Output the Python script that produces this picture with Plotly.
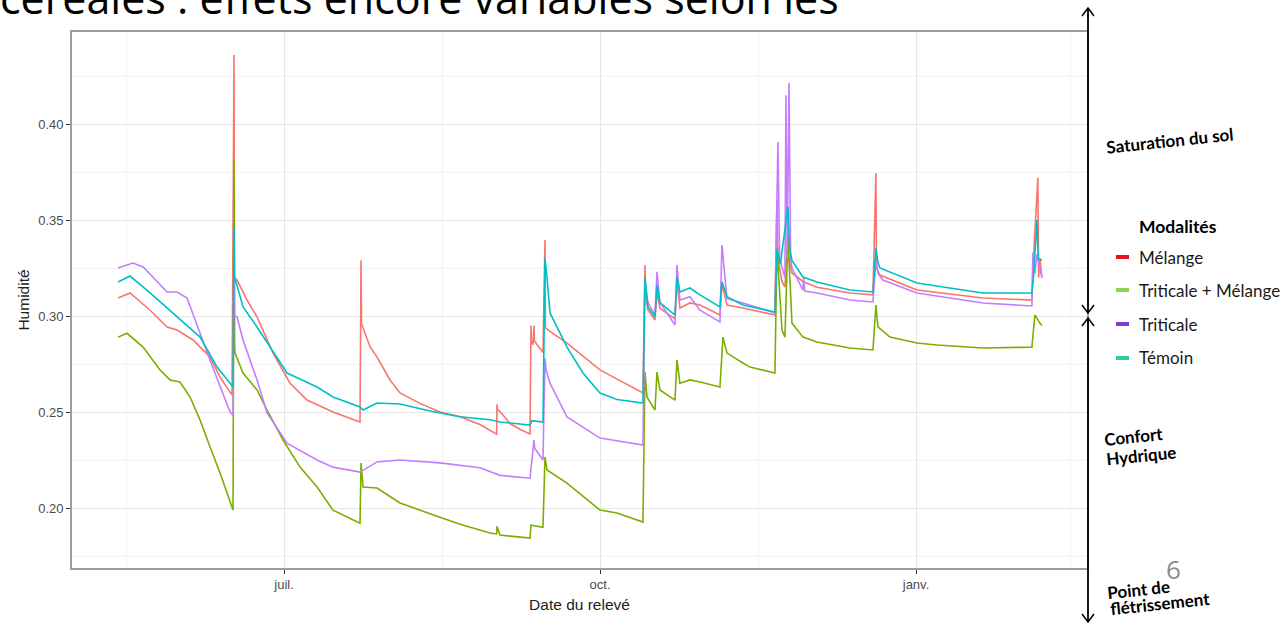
import pandas as pd
import plotly.graph_objects as go

# ---------------- data (days since 2018-05-01, humidity) ----------------
START = "2018-05-01"

mel_days = [12.66, 16.16, 21.98, 26.93, 29.84, 34.50, 39.45, 42.36, 45.85, 46.43, 46.55, 47.31, 50.22,
            53.13, 57.79, 62.74, 67.69, 75.25, 83.11, 83.41, 83.55, 86.03, 88.07, 91.85, 94.76, 100.58,
            106.40, 112.23, 118.05, 121.50, 122.90, 123.00, 123.10, 124.50, 126.78, 129.69, 132.61, 132.90,
            133.00, 133.48, 133.77, 133.90, 136.39, 136.97, 137.10, 138.43, 143.38, 152.98, 165.50, 166.08,
            166.30, 166.96, 169.00, 169.58, 170.45, 174.82, 175.40, 176.27, 179.18, 182.10, 187.92, 188.50,
            189.96, 194.61, 203.93, 204.51, 204.80, 205.97, 206.84, 207.71, 208.01, 208.88, 212.08, 216.16,
            225.76, 232.46, 233.33, 233.50, 234.50, 245.27, 264.48, 278.75, 279.04, 280.49, 280.70, 281.08,
            281.66]
mel_vals = [0.3094, 0.3120, 0.3030, 0.2943, 0.2927, 0.2875, 0.2786, 0.2682, 0.2588, 0.4360, 0.3200, 0.3187, 0.3083,
            0.2995, 0.2807, 0.2650, 0.2562, 0.2500, 0.2448, 0.3290, 0.2960, 0.2840, 0.2786, 0.2667, 0.2599, 0.2545,
            0.2500, 0.2475, 0.2435, 0.2400, 0.2385, 0.2540, 0.2515, 0.2490, 0.2440, 0.2410, 0.2385, 0.2950,
            0.2870, 0.2850, 0.2950, 0.2870, 0.2810, 0.3396, 0.2940, 0.2920, 0.2859, 0.2719, 0.2599, 0.3266,
            0.3100, 0.3030, 0.2979, 0.3120, 0.3040, 0.2985, 0.3180, 0.3042, 0.3068, 0.3057, 0.3005, 0.3170,
            0.3057, 0.3042, 0.3005, 0.3604, 0.3300, 0.3180, 0.3150, 0.3450, 0.3300, 0.3224, 0.3180, 0.3150,
            0.3120, 0.3110, 0.3745, 0.3250, 0.3213, 0.3135, 0.3094, 0.3083, 0.3250, 0.3720, 0.3200, 0.3300,
            0.3200]

tm_days = [12.66, 15.28, 19.94, 24.89, 27.80, 30.71, 33.62, 36.54, 39.45, 42.36, 46.14, 46.43, 46.60, 46.72,
           49.05, 53.13, 56.04, 60.70, 65.65, 70.60, 75.25, 83.11, 83.41, 83.99, 88.07, 94.76, 103.49, 112.23,
           120.96, 122.90, 123.00, 123.87, 132.61, 132.90, 136.39, 136.97, 137.55, 143.38, 152.98, 157.93,
           165.50, 166.08, 166.67, 169.00, 169.58, 170.45, 174.82, 175.40, 176.27, 179.18, 182.10, 187.92,
           188.79, 189.96, 194.61, 196.65, 203.93, 204.51, 205.97, 206.84, 207.71, 208.88, 212.08, 216.16,
           225.76, 232.46, 233.33, 233.92, 237.41, 245.27, 251.09, 264.48, 278.75, 279.62, 281.08, 281.66]
tm_vals = [0.2890, 0.2910, 0.2838, 0.2719, 0.2667, 0.2656, 0.2578, 0.2458, 0.2318, 0.2182, 0.1989, 0.3810, 0.2850, 0.2807,
           0.2703, 0.2615, 0.2510, 0.2354, 0.2213, 0.2109, 0.1989, 0.1921, 0.2234, 0.2109, 0.2104, 0.2026, 0.1970, 0.1915,
           0.1870, 0.1865, 0.1905, 0.1859, 0.1843, 0.1910, 0.1900, 0.2266, 0.2198, 0.2130, 0.1989, 0.1974,
           0.1927, 0.2708, 0.2578, 0.2510, 0.2708, 0.2615, 0.2562, 0.2770, 0.2650, 0.2667, 0.2656, 0.2630,
           0.2890, 0.2807, 0.2755, 0.2734, 0.2703, 0.3354, 0.2927, 0.2890, 0.3410, 0.2963, 0.2890, 0.2865,
           0.2833, 0.2823, 0.3057, 0.2943, 0.2890, 0.2859, 0.2849, 0.2833, 0.2838, 0.3005, 0.2963, 0.2950]

tri_days = [12.66, 16.99, 20.00, 26.93, 29.84, 32.75, 39.45, 45.27, 46.14, 46.43, 46.60, 47.31, 49.05, 53.13,
            56.04, 61.86, 70.60, 75.25, 83.11, 88.07, 94.76, 106.40, 118.05, 123.87, 132.61, 133.77, 134.00,
            136.39, 136.97, 137.30, 138.43, 143.38, 152.98, 165.50, 166.08, 166.96, 169.00, 169.58, 170.45,
            174.82, 175.40, 176.27, 179.18, 182.10, 187.92, 188.50, 189.96, 194.61, 203.93, 204.80, 205.30,
            206.84, 207.13, 207.50, 208.01, 208.50, 208.88, 212.08, 212.30, 212.60, 216.16, 225.76, 232.46,
            233.33, 234.00, 235.37, 245.27, 264.48, 278.75, 279.04, 279.60, 280.20, 281.08, 281.66]
tri_vals = [0.3250, 0.3276, 0.3255, 0.3125, 0.3125, 0.3094, 0.2770, 0.2500, 0.2484, 0.3360, 0.3000, 0.2995, 0.2875, 0.2667,
            0.2495, 0.2338, 0.2250, 0.2213, 0.2187, 0.2240, 0.2250, 0.2235, 0.2210, 0.2170, 0.2155, 0.2354, 0.2310,
            0.2250, 0.2780, 0.2720, 0.2650, 0.2474, 0.2364, 0.2328, 0.3170, 0.3070, 0.3005, 0.3230, 0.3070,
            0.2953, 0.3266, 0.3083, 0.3100, 0.3030, 0.2969, 0.3370, 0.3090, 0.3068, 0.3016, 0.3906, 0.3300,
            0.3200, 0.4150, 0.3300, 0.4214, 0.3300, 0.3250, 0.3135, 0.3200, 0.3130, 0.3120, 0.3083, 0.3073,
            0.3290, 0.3220, 0.3187, 0.3120, 0.3068, 0.3052, 0.3330, 0.3220, 0.3320, 0.3250, 0.3200]

tem_days = [12.66, 16.16, 21.98, 29.84, 36.54, 41.49, 46.14, 46.43, 46.55, 47.02, 49.05, 53.13, 58.95, 61.86,
            70.60, 75.25, 83.11, 84.00, 88.07, 94.76, 103.49, 112.23, 120.96, 123.87, 132.61, 133.20, 136.39,
            136.97, 137.55, 138.43, 143.38, 148.03, 152.98, 157.93, 165.50, 166.08, 166.96, 169.00, 169.58,
            170.45, 174.82, 175.40, 176.27, 179.18, 182.10, 187.92, 188.50, 189.96, 194.61, 203.93, 204.51,
            205.50, 207.71, 208.20, 208.88, 212.08, 216.16, 225.76, 232.46, 233.33, 233.90, 234.50, 245.27,
            264.48, 278.75, 279.30, 280.20, 280.60, 281.66]
tem_vals = [0.3177, 0.3208, 0.3120, 0.2995, 0.2890, 0.2734, 0.2630, 0.3460, 0.3200, 0.3177, 0.3047, 0.2943, 0.2786, 0.2703,
            0.2630, 0.2578, 0.2526, 0.2510, 0.2547, 0.2542, 0.2505, 0.2475, 0.2460, 0.2448, 0.2432, 0.2455, 0.2448,
            0.3300, 0.3203, 0.3016, 0.2838, 0.2703, 0.2599, 0.2565, 0.2547, 0.3200, 0.3047, 0.2995, 0.3160,
            0.3070, 0.3005, 0.3200, 0.3125, 0.3146, 0.3110, 0.3047, 0.3180, 0.3100, 0.3057, 0.3021, 0.3350,
            0.3270, 0.3570, 0.3350, 0.3290, 0.3203, 0.3177, 0.3135, 0.3125, 0.3354, 0.3280, 0.3250, 0.3172,
            0.3120, 0.3120, 0.3220, 0.3500, 0.3300, 0.3290]

series_names = ["Mélange", "Triticale + Mélange", "Triticale", "Témoin"]
series_colors = ["#F8766D", "#7CAE00", "#C77CFF", "#00BFC4"]
legend_colors = ["#E8141B", "#92D050", "#7F3FCC", "#33CC99"]
series_days = [mel_days, tm_days, tri_days, tem_days]
series_vals = [mel_vals, tm_vals, tri_vals, tem_vals]

y_ticks = [0.20, 0.25, 0.30, 0.35, 0.40]
y_minor = [0.175, 0.225, 0.275, 0.325, 0.375, 0.425]
x_ticks = ["2018-07-01", "2018-10-01", "2019-01-01"]
x_ticklabels = ["juil.", "oct.", "janv."]
x_minor = ["2018-05-16", "2018-08-16", "2018-11-16", "2019-02-15"]

# ---------------- figure ----------------
W, H = 1284, 626
L, R, T, B = 72, 1087, 32, 568


def px(x):
    return (x - L) / (R - L)


def py(y):
    return (B - y) / (B - T)


fig = go.Figure()
start = pd.Timestamp(START)
for name, d, v, c in zip(series_names, series_days, series_vals, series_colors):
    fig.add_trace(go.Scatter(
        x=start + pd.to_timedelta(d, unit="D"), y=v, mode="lines", name=name,
        line=dict(color=c, width=1.6), showlegend=False))

axis_font = dict(family="Liberation Sans, Arial, sans-serif", size=13, color="#4D4D4D")
title_font = dict(family="Liberation Sans, Arial, sans-serif", size=15.5, color="#222222")
fig.update_layout(
    width=W, height=H,
    margin=dict(l=L, r=W - R, t=T, b=H - B, pad=0),
    paper_bgcolor="white", plot_bgcolor="white",
    showlegend=False,
    xaxis=dict(
        type="date", range=["2018-04-30 06:00", "2019-02-19 19:00"],
        tickvals=x_ticks, ticktext=x_ticklabels, tickfont=axis_font,
        ticks="outside", ticklen=4, tickcolor="#333333", tickwidth=1,
        showgrid=True, gridcolor="#E6E6E6", gridwidth=1.2,
        minor=dict(tickvals=x_minor, showgrid=True, gridcolor="#F3F3F3", gridwidth=0.8, ticks=""),
        showline=True, linecolor="#9E9E9E", linewidth=1.6, mirror=True, zeroline=False,
        title=dict(text="Date du relevé", standoff=8, font=title_font),
    ),
    yaxis=dict(
        range=[0.16875, 0.44792],
        tickvals=y_ticks, ticktext=["0.20", "0.25", "0.30", "0.35", "0.40"], tickfont=axis_font,
        ticks="outside", ticklen=4, tickcolor="#333333", tickwidth=1,
        showgrid=True, gridcolor="#E6E6E6", gridwidth=1.2,
        minor=dict(tickvals=y_minor, showgrid=True, gridcolor="#F3F3F3", gridwidth=0.8, ticks=""),
        showline=True, linecolor="#9E9E9E", linewidth=1.6, mirror=True, zeroline=False,
        title=dict(text="Humidité", standoff=5, font=title_font),
    ),
)

annots = []
# slide title fragment at the top (cut off by the picture edge, as in the source)
annots.append(dict(text="céréales : effets encore variables selon les", x=px(-2), y=py(29),
                   xanchor="left", yanchor="bottom",
                   font=dict(family="Open Sans, sans-serif", size=43, color="#000000")))

side_font = "Lato, Open Sans, sans-serif"
side = dict(family=side_font, size=17, color="#000000")
annots.append(dict(text="<b>Saturation du sol</b>", x=px(1170), y=py(140), textangle=-6, font=side))
annots.append(dict(text="<b>Confort</b>", x=px(1133), y=py(436), textangle=-6, font=side))
annots.append(dict(text="<b>Hydrique</b>", x=px(1141), y=py(455), textangle=-6, font=side))
annots.append(dict(text="<b>Point de</b>", x=px(1138), y=py(589), textangle=-6, font=side))
annots.append(dict(text="<b>flétrissement</b>", x=px(1160), y=py(603), textangle=-6, font=side))
annots.append(dict(text="6", x=px(1173), y=py(569),
                   font=dict(family="Open Sans, sans-serif", size=26, color="#8C8C8C")))

# custom legend
annots.append(dict(text="<b>Modalités</b>", x=px(1137), y=py(226), xanchor="left",
                   font=dict(family=side_font, size=17.5, color="#000000")))
leg_y = [257, 290, 324, 358]
shapes = []
for name, col, yy in zip(series_names, legend_colors, leg_y):
    annots.append(dict(text=name, x=px(1137), y=py(yy), xanchor="left",
                       font=dict(family=side_font, size=17, color="#1A1A1A")))
    shapes.append(dict(type="line", xref="paper", yref="paper", x0=px(1116), x1=px(1129),
                       y0=py(yy), y1=py(yy), line=dict(color=col, width=4)))

for a in annots:
    a.setdefault("xref", "paper")
    a.setdefault("yref", "paper")
    a.setdefault("showarrow", False)
    a.setdefault("xanchor", "center")
    a.setdefault("yanchor", "middle")
fig.update_layout(annotations=annots)

# double arrows on the right
AX = 1088


def chevron(tipy, up):
    d = 8 if up else -8
    return dict(type="path", xref="paper", yref="paper",
                path=f"M {px(AX-6)} {py(tipy+d)} L {px(AX)} {py(tipy)} L {px(AX+6)} {py(tipy+d)}",
                line=dict(color="#000000", width=1.5))


for top, bot in [(8, 313), (318, 622)]:
    shapes.append(dict(type="line", xref="paper", yref="paper", x0=px(AX), x1=px(AX),
                       y0=py(top), y1=py(bot), line=dict(color="#000000", width=1.8)))
    shapes.append(chevron(top, True))
    shapes.append(chevron(bot, False))

fig.update_layout(shapes=shapes)

fig.write_html("out.html", config={"displayModeBar": False},
               post_script="document.body.style.margin='0';document.body.style.overflow='hidden';")
